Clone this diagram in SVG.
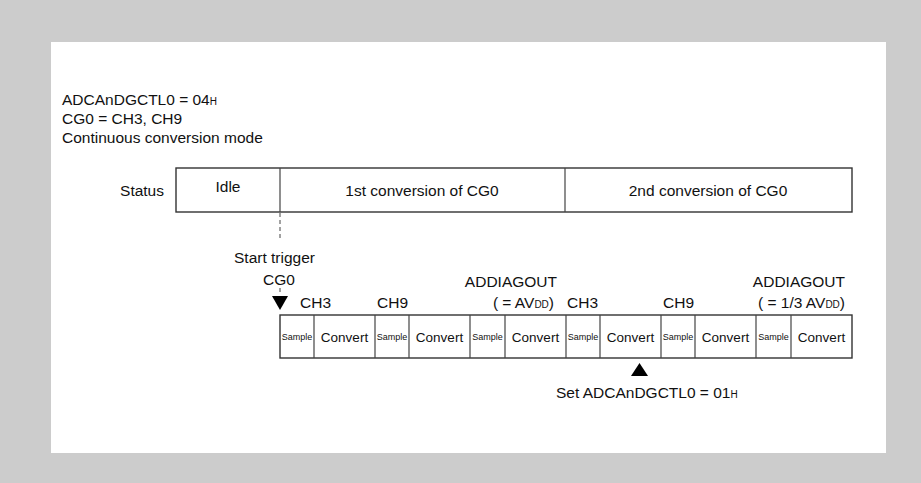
<svg xmlns="http://www.w3.org/2000/svg" width="921" height="483" viewBox="0 0 921 483">
<style>
text{font-family:"Liberation Sans",Arial,sans-serif;fill:#111;font-size:15.5px}
.sm{font-size:10px}
.smp{font-size:9px}
.cv{font-size:13.5px}
.mid{text-anchor:middle}
.end{text-anchor:end}
.box{fill:#fff;stroke:#333;stroke-width:1.4}
.div{stroke:#444;stroke-width:1.2;fill:none}
.dash{stroke:#444;stroke-width:1;stroke-dasharray:4,3;fill:none}
</style>
<rect x="0" y="0" width="921" height="483" fill="#cccccc"/>
<rect x="51" y="42" width="835" height="411" fill="#ffffff"/>

<g id="settings">
<text x="62" y="105">ADCAnDGCTL0 = 04<tspan class="sm">H</tspan></text>
<text x="62" y="124">CG0 = CH3, CH9</text>
<text x="62" y="143">Continuous conversion mode</text>
</g>

<g id="status">
<text x="164" y="196" class="end">Status</text>
<rect class="box" x="176" y="168" width="676" height="44"/>
<line class="div" x1="280" y1="168" x2="280" y2="212"/>
<line class="div" x1="565" y1="168" x2="565" y2="212"/>
<text x="228" y="192" class="mid">Idle</text>
<text x="422" y="196" class="mid">1st conversion of CG0</text>
<text x="708" y="196" class="mid">2nd conversion of CG0</text>
</g>

<g id="connectors">
<line class="dash" x1="280" y1="213" x2="280" y2="241"/>
<line class="dash" x1="280" y1="288" x2="280" y2="293"/>
<polygon points="272,296 288,296 280,310" fill="#000"/>
<polygon points="631,376 648,376 639.5,363" fill="#000"/>
</g>

<g id="trigger">
<text x="234" y="263">Start trigger</text>
<text x="263" y="285">CG0</text>
</g>

<g id="labels">
<text x="300" y="308">CH3</text>
<text x="377" y="308">CH9</text>
<text x="557" y="287" class="end">ADDIAGOUT</text>
<text x="554" y="308" class="end">( = AV<tspan class="sm">DD</tspan>)</text>
<text x="567" y="308">CH3</text>
<text x="663" y="308">CH9</text>
<text x="845" y="287" class="end">ADDIAGOUT</text>
<text x="845" y="308" class="end">( = 1/3 AV<tspan class="sm">DD</tspan>)</text>
</g>

<g id="sequence">
<rect class="box" x="280" y="315" width="572" height="43"/>
<line class="div" x1="314" y1="315" x2="314" y2="358"/>
<line class="div" x1="375" y1="315" x2="375" y2="358"/>
<line class="div" x1="409" y1="315" x2="409" y2="358"/>
<line class="div" x1="470" y1="315" x2="470" y2="358"/>
<line class="div" x1="505" y1="315" x2="505" y2="358"/>
<line class="div" x1="566" y1="315" x2="566" y2="358"/>
<line class="div" x1="600" y1="315" x2="600" y2="358"/>
<line class="div" x1="661" y1="315" x2="661" y2="358"/>
<line class="div" x1="695" y1="315" x2="695" y2="358"/>
<line class="div" x1="756" y1="315" x2="756" y2="358"/>
<line class="div" x1="791" y1="315" x2="791" y2="358"/>
<text class="smp mid" x="297" y="340">Sample</text>
<text class="cv mid" x="344.5" y="342">Convert</text>
<text class="smp mid" x="392" y="340">Sample</text>
<text class="cv mid" x="439.5" y="342">Convert</text>
<text class="smp mid" x="487.5" y="340">Sample</text>
<text class="cv mid" x="535.5" y="342">Convert</text>
<text class="smp mid" x="583" y="340">Sample</text>
<text class="cv mid" x="630.5" y="342">Convert</text>
<text class="smp mid" x="678" y="340">Sample</text>
<text class="cv mid" x="725.5" y="342">Convert</text>
<text class="smp mid" x="773.5" y="340">Sample</text>
<text class="cv mid" x="821.5" y="342">Convert</text>
</g>

<g id="set">
<text x="556" y="398">Set ADCAnDGCTL0 = 01<tspan class="sm">H</tspan></text>
</g>
</svg>
